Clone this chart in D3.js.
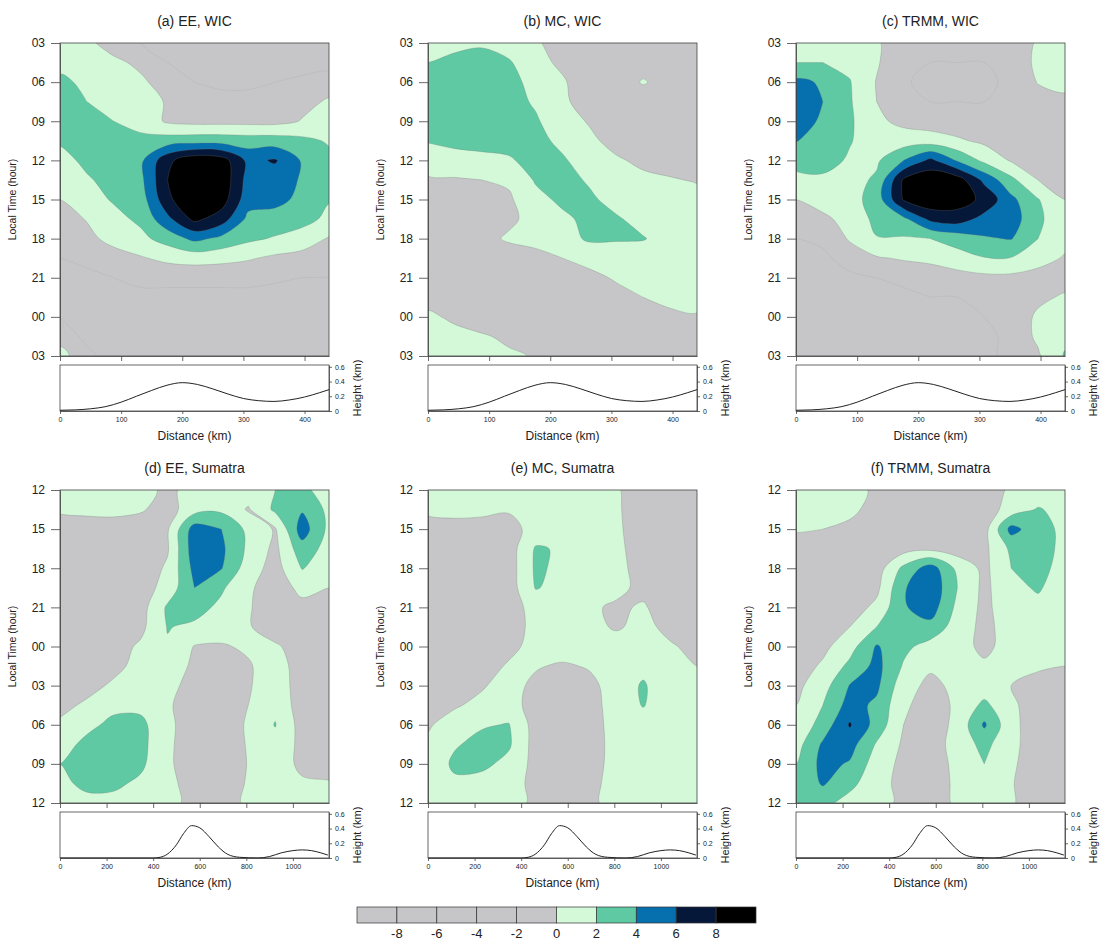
<!DOCTYPE html>
<html>
<head>
<meta charset="utf-8">
<title>Diurnal rainfall anomaly, WIC and Sumatra</title>
<style>
  body { margin: 0; background: #fff; }
  text { font-family: "Liberation Sans", Arial, Helvetica, sans-serif; fill: #222; }
</style>
</head>
<body>
<script src="https://d3js.org/d3.v7.min.js"></script>
<script>

// contour levels and fill colours (one more colour than levels)
var levels = [-8, -6, -4, -2, 0, 2, 4, 6, 8];
var fills = ["#c6c6c9", "#c6c6c9", "#c6c6c9", "#c6c6c9", "#c6c6c9",
             "#d3f9d8", "#5fc9a3", "#066fae", "#06183a", "#000000"];

// y tick labels (local time, 3 hourly over 24 h)
var wicHours = ["03", "06", "09", "12", "15", "18", "21", "00", "03"];
var sumHours = ["12", "15", "18", "21", "00", "03", "06", "09", "12"];

var wicKmTicks = [0, 100, 200, 300, 400];
var sumKmTicks = [0, 200, 400, 600, 800, 1000];
var heightTicks = [0, 0.2, 0.4, 0.6];

// terrain profiles
var wicDist   = [0, 25, 50, 75, 100, 125, 150, 175, 200, 225, 250, 275, 300, 325, 350, 375, 400, 425, 440];
var wicHeight = [0.01, 0.015, 0.03, 0.06, 0.12, 0.2, 0.28, 0.35, 0.385, 0.36, 0.3, 0.23, 0.17, 0.14, 0.13, 0.15, 0.19, 0.25, 0.29];
var sumDist   = [0, 200, 400, 430, 460, 500, 530, 565, 600, 640, 680, 720, 770, 850, 900, 950, 1000, 1040, 1080, 1120, 1150];
var sumHeight = [0, 0, 0, 0.01, 0.05, 0.18, 0.33, 0.44, 0.41, 0.29, 0.15, 0.05, 0.01, 0, 0.02, 0.07, 0.1, 0.11, 0.1, 0.07, 0.04];

// gridded values: 17 rows (every 1.5 h, top to bottom) x 11 columns (left to right)
var eeWic = [
  [1.5, 0.5, -1, -2, -3, -3, -3, -3, -3, -3, -3],
  [1.6, 1.2, 0.5, -0.5, -2, -3, -3, -3, -3, -3, -3],
  [2.3, 1.7, 1.2, 0.4, -1, -2, -2.5, -2.5, -2, -1.5, -0.8],
  [3.0, 2.0, 1.5, 1.0, -0.2, -1, -1.2, -1.2, -1, -0.5, 0.2],
  [3.2, 2.6, 2.0, 1.3, -0.3, -0.6, -0.6, -0.6, -0.6, 0.1, 0.8],
  [2.2, 3.0, 3.0, 2.5, 3.0, 3.2, 3.2, 3.0, 3.0, 2.5, 1.8],
  [1.4, 2.4, 3.0, 3.6, 7.5, 9.5, 9.0, 5.5, 6.2, 3.8, 2.5],
  [1.0, 1.8, 2.6, 3.5, 8.0, 10, 9.5, 5.2, 5.0, 3.8, 2.6],
  [0.0, 1.2, 2.2, 3.0, 7.5, 10, 9.0, 4.8, 4.6, 3.5, 2.1],
  [-0.8, 0.1, 1.4, 2.4, 5.5, 8.5, 7.0, 3.5, 3.2, 2.6, 1.6],
  [-1.5, -0.5, 0.6, 1.5, 2.8, 4.5, 3.5, 2.4, 1.8, 1.2, -0.2],
  [-2, -1.5, -0.8, -0.2, 0.5, 0.8, 0.6, 0.2, -0.4, -0.8, -1.2],
  [-2.5, -2.5, -2, -1.5, -1.5, -1.5, -1.5, -1.5, -1.8, -2, -2],
  [-2.5, -3, -3, -2.5, -2.5, -2.5, -2.5, -2.5, -2.5, -2.5, -2.5],
  [-2, -3, -3, -3, -3, -3, -3, -3, -3, -3, -3],
  [-0.8, -2.5, -3, -3, -3, -3, -3, -3, -3, -3, -3],
  [0.8, -1.5, -3, -3, -3, -3, -3, -3, -3, -3, -3]
];

var mcWic = [
  [1.0, 1.5, 1.8, 1.2, 0.3, -1, -2, -2, -2, -2, -2],
  [2.0, 2.5, 2.6, 2.2, 0.8, -0.5, -2, -2, -1.5, -1, -1.5],
  [2.6, 3.0, 3.0, 2.6, 1.4, 0.3, -1.5, -2, 0.3, -1.5, -2],
  [2.8, 3.0, 3.0, 2.6, 1.8, 0.4, -1, -2, -2, -2, -2],
  [2.6, 2.8, 2.9, 2.8, 2.2, 1.0, -0.2, -1.5, -2, -2, -2],
  [2.1, 2.4, 2.5, 2.6, 2.5, 1.6, 0.5, -0.8, -1.5, -1.8, -2],
  [1.2, 1.4, 1.6, 1.8, 2.6, 2.2, 1.2, 0.3, -0.5, -1, -1.2],
  [-0.3, -0.2, 0, 0.3, 2.2, 2.6, 1.8, 1.1, 0.5, 0.2, -0.2],
  [-1, -1, -0.8, -0.3, 1.4, 2.4, 2.3, 1.4, 1.0, 0.9, 0.8],
  [-1, -1, -0.8, -0.3, 0.5, 1.6, 2.5, 2.2, 1.4, 1.2, 1.0],
  [-1.2, -1, -0.5, 0.2, 0.5, 1.2, 2.3, 2.2, 2.1, 1.3, 1.1],
  [-1.5, -1.5, -1.2, -0.8, -0.5, 0.0, 0.6, 0.8, 1.0, 1.2, 1.2],
  [-2, -2, -2, -1.5, -1.5, -1.2, -0.5, 0.2, 0.6, 1.0, 1.2],
  [-1, -2, -2, -2, -2, -1.5, -1.2, -0.6, 0, 0.5, 0.8],
  [0.5, -0.5, -1.5, -2, -2, -2, -2, -1.5, -1, -0.4, -0.2],
  [1.0, 0.8, 0.3, -0.5, -1.5, -2, -2, -2, -2, -1.5, -1],
  [1.2, 1.0, 0.8, 0.4, -0.2, -1.5, -2, -2, -2, -2, -2]
];

var trmmWic = [
  [1.2, 1.0, 0.8, 0.3, -1.5, -2, -2, -2, -1.5, 0.3, 1.0],
  [2.0, 2.0, 1.5, 0.2, -1.5, -2, -2, -2, -1.2, 0.4, 1.0],
  [4.5, 3.75, 2.1, -0.1, -1.8, -2.5, -2.5, -2.5, -1.5, 0.1, 0.6],
  [5.0, 4.0, 2.2, 0.0, -1.5, -2, -2, -2, -1.5, -0.8, -0.5],
  [4.6, 3.8, 2.3, 0.4, -0.5, -1, -1.2, -1.5, -1.5, -1.2, -1],
  [4.1, 3.0, 2.1, 1.2, 1.0, 1.0, 0.3, -0.4, -0.8, -1, -1],
  [2.5, 2.6, 1.8, 1.7, 4.0, 6.5, 3.8, 1.5, -0.2, -0.5, -0.6],
  [1.6, 1.7, 1.3, 2.3, 8.3, 9.5, 9.0, 5.5, 2.5, 0.0, -0.5],
  [0.0, 0.6, 1.2, 2.9, 8.2, 9.5, 9.0, 7.5, 4.5, 2.1, 0.0],
  [-1.2, -0.3, 0.5, 2.6, 3.5, 6.5, 7.0, 5.3, 5.0, 2.4, 0.6],
  [-2, -1.5, 0.2, 1.9, 1.8, 2.0, 2.8, 3.8, 4.1, 2.0, 0.6],
  [-2.5, -2.5, -1, -0.2, 0.2, 0.5, 1.2, 1.9, 1.9, 0.8, -0.2],
  [-2.5, -3, -2.5, -2, -1.5, -1.2, -0.8, -0.5, -0.5, -0.8, -1],
  [-2.5, -3, -3, -2.5, -2.5, -2, -2, -2, -1.5, -0.5, 0.3],
  [-2.5, -3, -3, -3, -3, -3, -2.5, -2, -1.5, 0.4, 1.0],
  [-2.5, -3, -3, -3, -3, -3, -3, -2.5, -1.5, 0.4, 1.5],
  [-2.5, -3, -3, -3, -3, -3, -3, -2.5, -1.5, -0.3, 2.2]
];

var eeSum = [
  [1.5, 1.5, 1.2, 0.8, -0.5, 0.8, 1.2, 1.0, 2.0, 2.5, 1.0],
  [0.3, 0.5, 0.6, 0.2, -0.8, 1.2, 1.6, -0.2, 2.4, 3.8, 1.5],
  [-1, -1, -1, -1, -0.2, 5.0, 4.0, 1.5, -0.2, 5.0, 1.5],
  [-1.5, -1.5, -1.5, -1.2, -0.2, 5.2, 4.4, 1.6, -0.5, 3.2, 1.2],
  [-1.5, -1.5, -1.5, -1.2, 0.3, 4.6, 4.1, 1.0, -0.8, 2.1, 0.9],
  [-1.5, -1.5, -1.5, -1.0, 0.8, 4.0, 2.3, 0.3, -1.0, 0.5, 0.0],
  [-1.5, -1.5, -1.5, -0.8, 2.3, 2.8, 1.5, 0.2, -1.2, -0.5, -0.5],
  [-1.5, -1.5, -1.5, -0.5, 2.1, 1.6, 1.0, 0.2, -1.2, -0.8, -0.5],
  [-1.5, -1.2, -0.8, 0.3, 1.8, -0.1, -0.2, 0.3, 0.3, -1, -0.5],
  [-1.5, -1.2, -0.5, 0.6, 1.5, -0.5, -1, -0.2, 1.0, -1, -1.2],
  [-1.2, -0.6, 0.3, 1.2, 0.8, -1, -1.5, -0.2, 1.2, -1, -1.5],
  [-0.5, 0.3, 1.5, 1.5, 0.3, -1.2, -1.5, 0, 1.5, -1, -1.5],
  [0.3, 1.5, 2.5, 2.5, 0.5, -1.2, -1.5, 0.3, 2.1, -0.8, -1.5],
  [1.2, 2.5, 3.0, 2.6, 0.4, -1.2, -1.5, 0.2, 1.3, -0.5, -1.2],
  [2.0, 2.8, 3.0, 2.4, 0.3, -1, -1.5, 0.1, 1.2, -0.5, -1],
  [1.6, 2.4, 2.4, 1.6, 0.5, -0.8, -1.2, 0.2, 1.2, 0.3, 0.2],
  [1.2, 1.5, 1.4, 1.0, 0.5, -0.5, -1, 0.4, 1.5, 1.0, 0.8]
];

var mcSum = [
  [1.5, 1.5, 1.2, 0.8, 0.5, 1.0, 0.8, 0.2, -1, -1.5, -1.5],
  [0.5, 0.8, 0.6, 0.2, 0.6, 1.2, 1.0, 0.3, -1.2, -1.5, -1.5],
  [-1, -1, -1, -0.8, 0.8, 1.5, 1.2, 0.4, -1.2, -1.5, -1.5],
  [-1.5, -1.5, -1.5, -1, 2.2, 1.8, 1.0, 0.5, -1, -1.5, -1.5],
  [-1.5, -1.5, -1.5, -1, 2.3, 1.6, 1.5, 0.6, -0.8, -1.5, -1.5],
  [-1.5, -1.5, -1.5, -1, 2.1, 1.5, 1.0, 0.5, -0.5, -1.2, -1.5],
  [-1.5, -1.5, -1.5, -1, 0.8, 1.2, 0.3, -0.3, 0.2, -1, -1.2],
  [-1.5, -1.5, -1.5, -0.8, 0.5, 1.0, 0.5, -0.2, 0.5, -0.5, -1],
  [-1.5, -1.5, -1.2, -0.5, 0.6, 1.2, 1.0, 0.8, 0.9, 0.2, -0.5],
  [-1.5, -1.2, -0.8, 0.2, 0.2, -0.3, 0.2, 1.0, 1.5, 0.6, 0],
  [-1.2, -0.8, -0.2, 0.8, -0.5, -1, -0.6, 1.0, 2.2, 0.8, 0.3],
  [-0.8, -0.2, 0.5, 0.8, -0.8, -1.2, -0.8, 0.9, 2.1, 0.8, 0.5],
  [-0.2, 0.8, 1.8, 2.1, -0.8, -1.2, -0.8, 0.7, 1.2, 0.6, 0.5],
  [0.3, 1.8, 2.6, 2.3, -0.8, -1.2, -0.8, 0.6, 0.8, 0.5, 0.4],
  [0.6, 2.4, 2.5, 1.4, -0.6, -1.0, -0.6, 0.5, 0.6, 0.4, 0.3],
  [0.7, 1.6, 1.2, 0.6, -0.4, -0.8, -0.4, 0.5, 0.5, 0.3, 0.3],
  [0.8, 0.8, 0.6, 0.4, -0.2, -0.6, -0.3, 0.5, 0.4, 0.3, 0.3]
];

var trmmSum = [
  [1.5, 1.4, 1.0, -0.5, -1.5, -1.5, -1.5, -1, 0.3, 0.5, 0.5],
  [1.2, 1.0, 0.5, -0.8, -1.5, -1.5, -1.5, -1, 0.8, 2.2, 1.2],
  [0.2, 0, -0.5, -1.2, -1.5, -1.5, -1.5, -0.8, 4.7, 2.8, 1.5],
  [-1, -1, -1.2, -1.2, -0.8, -0.5, -1, -0.5, 2.4, 2.8, 1.5],
  [-1.5, -1.5, -1.5, -1.0, 2.5, 5.0, 1.5, -0.5, 2.0, 2.6, 1.3],
  [-1.5, -1.5, -1.5, -0.5, 3.8, 5.5, 2.0, -0.5, 1.5, 2.2, 1.0],
  [-1.5, -1.5, -1.0, 0.5, 3.8, 5.0, 1.5, -0.5, 1.2, 1.5, 0.8],
  [-1.5, -1.2, 0, 2.0, 3.6, 3.4, 1.0, -0.5, 0.8, 1.0, 0.6],
  [-1.5, -0.5, 1.2, 4.2, 2.5, 1.2, 0.5, -0.3, 0.5, 0.6, 0.4],
  [-1, 0.3, 2.5, 4.6, 1.8, 0.3, 0.8, 0.2, 0, 0.2, 0],
  [-0.5, 1.2, 4.1, 4.4, 0.8, -0.5, 0.5, 0.8, 0, -0.5, -0.5],
  [0, 2.0, 4.8, 3.6, 0.3, -0.8, 0.3, 2.5, 0.3, -0.8, -1],
  [0.5, 2.8, 6.2, 3.2, 0, -1, 0.5, 4.3, 0.5, -1, -1.2],
  [1.2, 4.3, 4.8, 1.8, -0.3, -1, 0.8, 2.6, 0.5, -1, -1.2],
  [2.0, 4.6, 3.8, 1.0, -0.5, -1, 0.5, 2.0, 0.3, -1, -1.2],
  [2.5, 4.2, 2.6, 0.6, -0.5, -0.8, 0.3, 1.0, 0.1, -0.8, -1],
  [2.3, 2.6, 1.2, 0.5, -0.3, -0.6, 0.2, 0.5, 0.1, -0.5, -0.8]
];

var panels = [
  { title: "(a) EE, WIC",       grid: eeWic,   hours: wicHours, dist: wicDist, height: wicHeight, kmMax: 440,  kmTicks: wicKmTicks, col: 0, row: 0 },
  { title: "(b) MC, WIC",       grid: mcWic,   hours: wicHours, dist: wicDist, height: wicHeight, kmMax: 440,  kmTicks: wicKmTicks, col: 1, row: 0 },
  { title: "(c) TRMM, WIC",     grid: trmmWic, hours: wicHours, dist: wicDist, height: wicHeight, kmMax: 440,  kmTicks: wicKmTicks, col: 2, row: 0 },
  { title: "(d) EE, Sumatra",   grid: eeSum,   hours: sumHours, dist: sumDist, height: sumHeight, kmMax: 1155, kmTicks: sumKmTicks, col: 0, row: 1 },
  { title: "(e) MC, Sumatra",   grid: mcSum,   hours: sumHours, dist: sumDist, height: sumHeight, kmMax: 1155, kmTicks: sumKmTicks, col: 1, row: 1 },
  { title: "(f) TRMM, Sumatra", grid: trmmSum, hours: sumHours, dist: sumDist, height: sumHeight, kmMax: 1155, kmTicks: sumKmTicks, col: 2, row: 1 }
];

var colX = [60, 428, 796], rowY = [43, 490],
    W = 269, H = 313;

var color = d3.scaleThreshold().domain(levels).range(fills);

var svg = d3.select("body").append("svg")
    .attr("width", 1104)
    .attr("height", 940);

function styleAxis(sel, size) {
  sel.selectAll("path, line").attr("stroke", "#444").attr("stroke-width", 0.8);
  sel.selectAll("text").attr("font-size", size).attr("fill", "#222")
     .attr("font-family", "Liberation Sans, Arial, sans-serif");
}

panels.forEach(function(p, k) {
  var x0 = colX[p.col], y0 = rowY[p.row];
  var nx = p.grid[0].length, ny = p.grid.length;

  var gx = d3.scaleLinear().domain([0, nx - 1]).range([x0, x0 + W]),
      gy = d3.scaleLinear().domain([0, ny - 1]).range([y0, y0 + H]),
      hy = d3.scaleLinear().domain([0, 24]).range([y0, y0 + H]),
      km = d3.scaleLinear().domain([0, p.kmMax]).range([x0, x0 + W]);

  var g = svg.append("g");

  g.append("clipPath").attr("id", "clip" + k)
    .append("rect").attr("x", x0).attr("y", y0).attr("width", W).attr("height", H);

  // filled contours
  var cs = d3.contours().size([nx, ny]).thresholds(levels)(p.grid.flat());
  var ring = d3.line()
      .x(function(d) { return gx(d[0] - 0.5); })
      .y(function(d) { return gy(d[1] - 0.5); })
      .curve(d3.curveCatmullRomClosed.alpha(0.5));

  var cg = g.append("g").attr("clip-path", "url(#clip" + k + ")");
  cg.append("rect").attr("x", x0).attr("y", y0).attr("width", W).attr("height", H)
    .attr("fill", fills[0]);
  cg.selectAll("path")
    .data(cs)
    .join("path")
      .attr("d", function(c) {
        return c.coordinates.map(function(poly) {
          return poly.map(function(r) { return ring(r.slice(0, -1)); }).join("");
        }).join("");
      })
      .attr("fill", function(c) { return color(c.value); })
      .attr("stroke", "#707070")
      .attr("stroke-width", 0.5)
      .attr("stroke-opacity", function(c) { return c.value < 0 ? 0.18 : 0.55; });

  g.append("rect").attr("x", x0).attr("y", y0).attr("width", W).attr("height", H)
    .attr("fill", "none").attr("stroke", "#444").attr("stroke-width", 0.8);

  // left axis: local time
  g.append("g")
    .attr("transform", "translate(" + x0 + ",0)")
    .call(d3.axisLeft(hy).tickValues(d3.range(0, 25, 3))
      .tickFormat(function(d, i) { return p.hours[i]; })
      .tickSize(9).tickSizeOuter(0).tickPadding(6))
    .call(styleAxis, 12);

  // bottom ticks (no labels) on contour plot
  g.append("g")
    .attr("transform", "translate(0," + (y0 + H) + ")")
    .call(d3.axisBottom(km).tickValues(p.kmTicks).tickFormat("").tickSize(5).tickSizeOuter(0))
    .call(styleAxis, 7);

  g.append("text")
    .attr("transform", "translate(" + (x0 - 44) + "," + (y0 + H / 2) + ") rotate(-90)")
    .attr("text-anchor", "middle")
    .attr("font-size", 10.5)
    .text("Local Time (hour)");

  g.append("text")
    .attr("x", x0 + W / 2).attr("y", y0 - 17)
    .attr("text-anchor", "middle")
    .attr("font-size", 14)
    .text(p.title);

  // terrain profile
  var ty0 = y0 + 322, ty1 = y0 + 368;
  var hs = d3.scaleLinear().domain([0, 0.625]).range([ty1, ty0]);

  g.append("rect").attr("x", x0).attr("y", ty0).attr("width", W).attr("height", ty1 - ty0)
    .attr("fill", "#fff").attr("stroke", "#444").attr("stroke-width", 0.8);

  var prof = d3.zip(p.dist, p.height);
  g.append("path")
    .datum(prof)
    .attr("fill", "none")
    .attr("stroke", "#222")
    .attr("stroke-width", 1)
    .attr("d", d3.line()
      .x(function(d) { return km(d[0]); })
      .y(function(d) { return hs(d[1]); })
      .curve(d3.curveMonotoneX));

  g.append("g")
    .attr("transform", "translate(0," + ty1 + ")")
    .call(d3.axisBottom(km).tickValues(p.kmTicks).tickFormat(d3.format("d")).tickSize(3).tickSizeOuter(0))
    .call(styleAxis, 7);

  g.append("g")
    .attr("transform", "translate(" + (x0 + W) + ",0)")
    .call(d3.axisRight(hs).tickValues(heightTicks)
      .tickFormat(function(d) { return d === 0 ? "0" : d.toFixed(1); })
      .tickSize(3).tickSizeOuter(0))
    .call(styleAxis, 7);

  g.append("text")
    .attr("x", x0 + W / 2).attr("y", y0 + 397)
    .attr("text-anchor", "middle")
    .attr("font-size", 12)
    .text("Distance (km)");

  g.append("text")
    .attr("transform", "translate(" + (x0 + W + 32) + "," + ((ty0 + ty1) / 2) + ") rotate(-90)")
    .attr("text-anchor", "middle")
    .attr("font-size", 11)
    .text("Height (km)");
});

// colour bar
var cbX = 357, cbY = 907, cbW = 399, cbH = 16;
var cb = d3.scaleLinear().domain([0, fills.length]).range([cbX, cbX + cbW]);
var bar = svg.append("g");

bar.selectAll("rect")
  .data(fills)
  .join("rect")
    .attr("x", function(d, i) { return cb(i); })
    .attr("y", cbY)
    .attr("width", cb(1) - cb(0))
    .attr("height", cbH)
    .attr("fill", function(d) { return d; })
    .attr("stroke", "#333")
    .attr("stroke-width", 0.7);

bar.selectAll("text")
  .data(levels)
  .join("text")
    .attr("x", function(d, i) { return cb(i + 1); })
    .attr("y", cbY + 31)
    .attr("text-anchor", "middle")
    .attr("font-size", 13)
    .text(function(d) { return d; });

</script>
</body>
</html>
